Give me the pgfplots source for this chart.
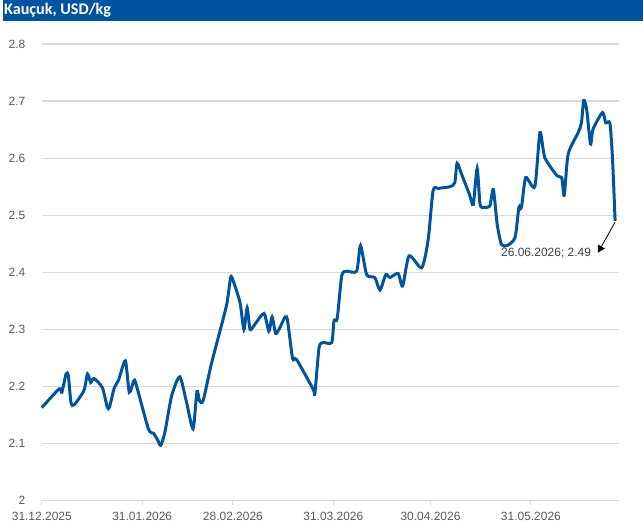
\documentclass[border=0pt]{standalone}
\usepackage{fontspec}
\setmainfont{Liberation Sans}
\newfontfamily\titlefont{Carlito}
\usepackage{pgfplots}
\usepackage{pgfplotstable}
\pgfplotsset{compat=1.18}
\usetikzlibrary{arrows.meta}

\definecolor{rubberblue}{RGB}{0,84,159}
\definecolor{labelgray}{RGB}{89,89,89}
\definecolor{notegray}{RGB}{64,64,64}
\definecolor{gridgray}{RGB}{217,217,217}

% days after 31.12.2025, price in USD/kg
\pgfplotstableread{
day price
0 2.163
5.4 2.196
6.2 2.190
7.5 2.222
8.2 2.219
9.0 2.172
10.0 2.168
13.0 2.193
14.1 2.222
15.1 2.207
16.1 2.214
18.7 2.198
20.2 2.164
20.9 2.164
22.3 2.196
23.8 2.213
25.8 2.245
27.0 2.190
28.4 2.210
29.1 2.204
32.9 2.126
34.5 2.118
35.8 2.106
36.7 2.097
38.0 2.120
40.1 2.184
42.6 2.217
44.7 2.172
46.7 2.126
47.9 2.191
48.7 2.175
49.8 2.175
52.2 2.236
54.3 2.282
57.1 2.344
58.3 2.391
59.1 2.385
61.2 2.347
62.4 2.300
63.4 2.338
64.3 2.300
65.8 2.309
68.6 2.328
70.1 2.297
71.1 2.322
72.2 2.293
73.5 2.303
75.6 2.322
77.4 2.250
78.7 2.247
83.8 2.195
84.3 2.187
85.6 2.268
86.9 2.277
89.5 2.277
90.2 2.315
91.2 2.319
92.6 2.394
94.1 2.402
97.2 2.402
98.4 2.447
100.3 2.396
102.8 2.391
104.4 2.369
106.2 2.396
107.5 2.391
110.0 2.398
111.4 2.376
113.4 2.429
117.3 2.408
119.3 2.458
120.8 2.543
122.4 2.547
126.0 2.550
127.5 2.557
128.2 2.591
129.6 2.572
132.0 2.537
133.2 2.519
134.4 2.582
135.3 2.519
136.5 2.514
138.3 2.516
139.4 2.545
140.6 2.484
141.9 2.449
143.7 2.447
146.1 2.461
147.3 2.514
148.1 2.514
149.4 2.566
152.2 2.550
153.8 2.645
155.3 2.601
159.1 2.569
160.5 2.566
161.3 2.535
162.5 2.607
165.6 2.645
166.6 2.662
167.3 2.701
168.2 2.686
169.4 2.625
170.2 2.651
173.1 2.680
174.1 2.662
175.4 2.661
176.2 2.598
177.0 2.490
}\rubber

\begin{document}
\begin{tikzpicture}
\useasboundingbox (-41.8bp,-31.3bp) rectangle (601.2bp,500.7bp);
\fill[rubberblue] (-39.1bp,480bp) rectangle (601.2bp,500.7bp);
\node[anchor=west, text=white, inner sep=0pt,
  font=\titlefont\bfseries\fontsize{16.2}{18}\selectfont] at (-37.8bp,490.6bp) {Kauçuk, USD/kg};
\begin{axis}[
  at={(0,0)}, anchor=south west,
  scale only axis,
  width=577.2bp, height=456.7bp,
  xmin=0, xmax=178.2,
  ymin=2, ymax=2.8,
  axis line style={draw=none},
  tick pos=left,
  tick align=outside,
  xtick={0,31,59,90,120,151},
  xticklabels={31.12.2025,31.01.2026,28.02.2026,31.03.2026,30.04.2026,31.05.2026},
  ytick={2,2.1,2.2,2.3,2.4,2.5,2.6,2.7,2.8},
  yticklabels={2,2.1,2.2,2.3,2.4,2.5,2.6,2.7,2.8},
  major tick length=4bp,
  xtick style={gridgray, line width=1bp},
  ytick style={draw=none},
  ymajorgrids,
  major grid style={gridgray, line width=1.2bp},
  tick label style={text=labelgray, font=\fontsize{12}{14}\selectfont},
  yticklabel style={xshift=-9bp},
  xticklabel style={yshift=-4bp},
  clip=false,
]
\addplot[rubberblue, line width=3bp, smooth, tension=0.4] table[x=day, y=price] {\rubber};
\draw[-{Triangle[width=8bp,length=7bp]}, black, line width=0.8bp]
  (axis cs:177,2.488) -- (axis cs:171.7,2.4346);
\node[anchor=east, text=notegray, inner sep=0pt, font=\fontsize{12}{14}\selectfont]
  at (axis cs:169.6,2.4335) {26.06.2026; 2.49};
\end{axis}
\end{tikzpicture}
\end{document}
